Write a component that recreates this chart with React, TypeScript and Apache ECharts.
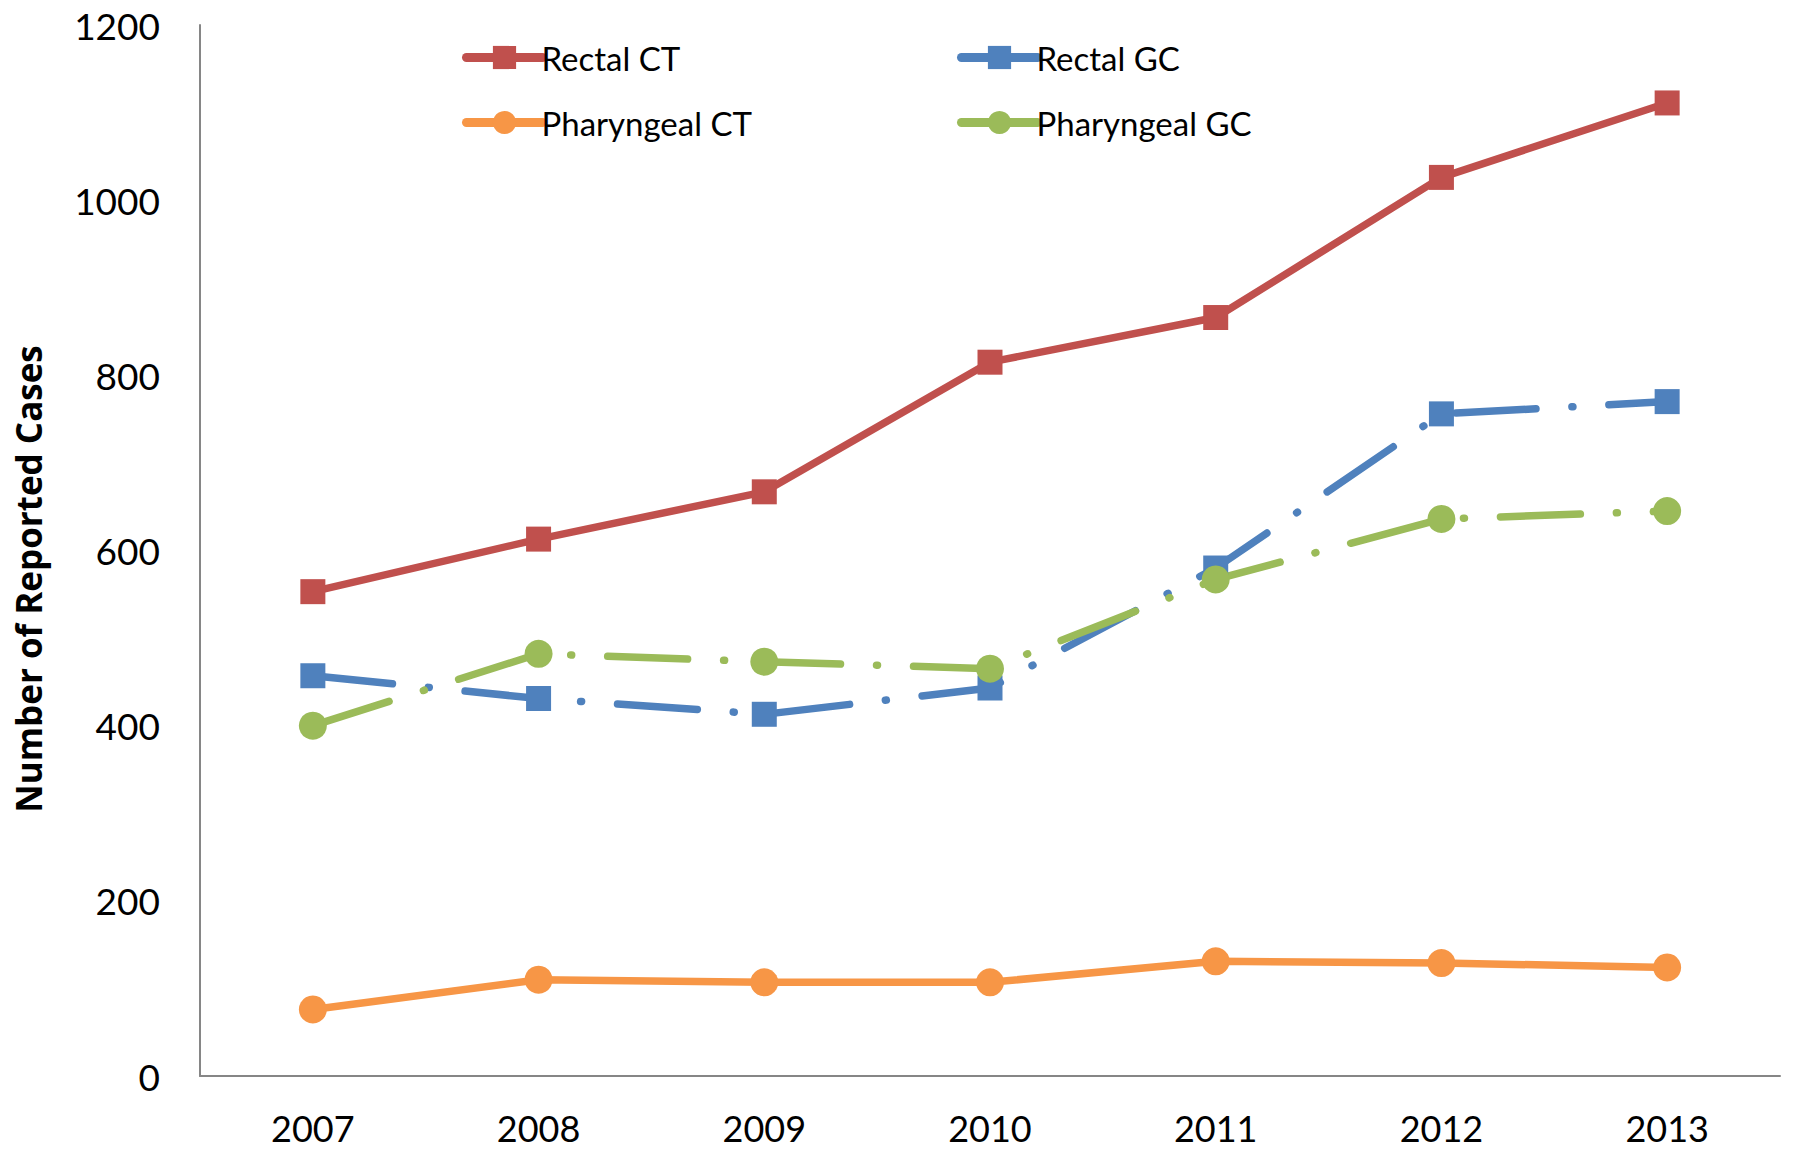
import React, { useEffect, useRef } from "react";
import * as echarts from "echarts";

const years = ["2007", "2008", "2009", "2010", "2011", "2012", "2013"];
const rectalCT = [553, 613, 667, 815, 866, 1026, 1111];
const rectalGC = [457, 431, 413, 443, 580, 756, 770];
const pharyngealCT = [76, 110, 107, 107, 131, 129, 124];
const pharyngealGC = [400, 482, 473, 465, 567, 636, 645];
const yTicks = { min: 0, max: 1200, interval: 200 };
const yTitle = "Number of Reported Cases";

const RED = "#C0504D";
const BLUE = "#4F81BD";
const ORANGE = "#F79646";
const GREEN = "#9BBB59";
const FONT = "Lato";
const DASHDOT = [80, 36, 1, 36];

export default function App() {
  const ref = useRef<HTMLDivElement>(null);
  useEffect(() => {
    const chart = echarts.init(ref.current!, null, { renderer: "svg" });
    const mk = (name: string, data: number[], color: string, symbol: string, size: number, dashed: boolean) => ({
      name,
      type: "line",
      data,
      symbol,
      symbolSize: size,
      showSymbol: true,
      itemStyle: { color, borderWidth: 0 },
      lineStyle: { color, width: 7.5, type: dashed ? DASHDOT : "solid", cap: "round", join: "round" },
      emphasis: { disabled: true },
      z: 2,
    });
    const legendItem = (name: string, left: number, top: number) => ({
      left,
      top,
      orient: "horizontal",
      data: [name],
      itemWidth: 76,
      itemHeight: 29,
      itemGap: 0,
      padding: 0,
      lineStyle: { type: "solid", width: 9, cap: "round" },
      textStyle: { fontFamily: FONT, fontSize: 33, color: "#000", padding: [0, 0, 0, -6] },
      selectedMode: false,
    });
    chart.setOption({
      animation: false,
      backgroundColor: "#fff",
      grid: { left: 200, right: 13, top: 25, bottom: 76, containLabel: false },
      legend: [
        legendItem("Rectal CT", 462, 41),
        legendItem("Rectal GC", 957, 41),
        legendItem("Pharyngeal CT", 462, 106),
        legendItem("Pharyngeal GC", 957, 106),
      ],
      xAxis: {
        type: "category",
        data: years,
        boundaryGap: true,
        axisLine: { lineStyle: { color: "#868686", width: 2 } },
        axisTick: { show: false },
        axisLabel: { fontFamily: FONT, fontSize: 36, color: "#000", margin: 38, lineHeight: 28 },
        splitLine: { show: false },
      },
      yAxis: {
        type: "value",
        min: yTicks.min,
        max: yTicks.max,
        interval: yTicks.interval,
        axisLine: { show: true, lineStyle: { color: "#868686", width: 2 } },
        axisTick: { show: false },
        axisLabel: { fontFamily: FONT, fontSize: 37, color: "#000", margin: 40, formatter: (v: number) => String(v) },
        splitLine: { show: false },
      },
      graphic: [
        {
          type: "text",
          x: 28,
          y: 579,
          rotation: Math.PI / 2,
          style: {
            text: yTitle,
            fontFamily: "Open Sans",
            fontWeight: "bold",
            fontSize: 35,
            fill: "#000",
            align: "center",
            verticalAlign: "middle",
          },
        },
      ],
      series: [
        mk("Rectal CT", rectalCT, RED, "rect", 25, false),
        mk("Rectal GC", rectalGC, BLUE, "rect", 25, true),
        mk("Pharyngeal CT", pharyngealCT, ORANGE, "circle", 28, false),
        mk("Pharyngeal GC", pharyngealGC, GREEN, "circle", 28, true),
      ],
    });
    return () => chart.dispose();
  }, []);
  return (
    <div
      ref={ref}
      style={{ position: "fixed", left: 0, top: 0, width: 1793, height: 1152, background: "#fff" }}
    />
  );
}
